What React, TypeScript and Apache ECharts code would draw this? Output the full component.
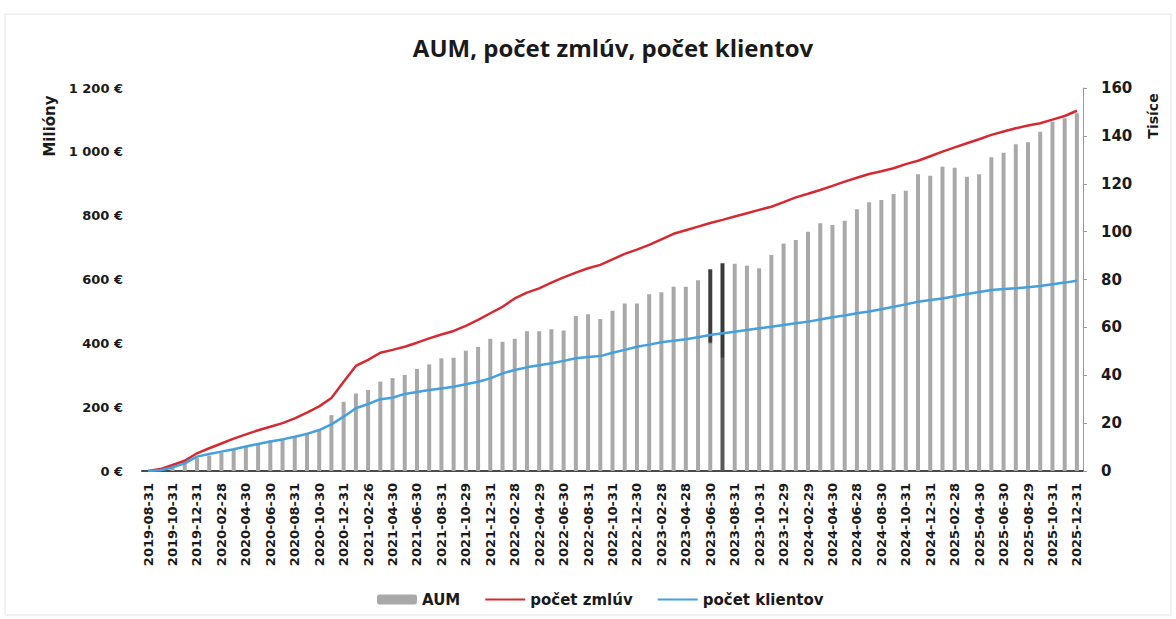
import React, { useEffect, useRef } from "react";
import * as echarts from "echarts";

const categories = [
  "2019-08-31", "2019-09-30", "2019-10-31", "2019-11-29", "2019-12-31",
  "2020-01-31", "2020-02-28", "2020-03-31", "2020-04-30", "2020-05-29", "2020-06-30",
  "2020-07-31", "2020-08-31", "2020-09-30", "2020-10-30", "2020-11-30", "2020-12-31",
  "2021-01-29", "2021-02-26", "2021-03-31", "2021-04-30", "2021-05-31", "2021-06-30",
  "2021-07-30", "2021-08-31", "2021-09-30", "2021-10-29", "2021-11-30", "2021-12-31",
  "2022-01-31", "2022-02-28", "2022-03-31", "2022-04-29", "2022-05-31", "2022-06-30",
  "2022-07-29", "2022-08-31", "2022-09-30", "2022-10-31", "2022-11-30", "2022-12-30",
  "2023-01-31", "2023-02-28", "2023-03-31", "2023-04-28", "2023-05-31", "2023-06-30",
  "2023-07-31", "2023-08-31", "2023-09-29", "2023-10-31", "2023-11-30", "2023-12-29",
  "2024-01-31", "2024-02-29", "2024-03-28", "2024-04-30", "2024-05-31", "2024-06-28",
  "2024-07-31", "2024-08-30", "2024-09-30", "2024-10-31", "2024-11-29", "2024-12-31",
  "2025-01-31", "2025-02-28", "2025-03-31", "2025-04-30", "2025-05-30", "2025-06-30",
  "2025-07-31", "2025-08-29", "2025-09-30", "2025-10-31", "2025-11-28", "2025-12-31",
];

// AUM in millions of EUR (left axis)
const aumValues = [
  0, 2, 10, 28, 40,
  48, 57, 68, 76, 86, 96,
  102, 107, 120, 128, 175, 217,
  243, 254, 280, 291, 301, 320,
  334, 353, 355, 377, 389, 414,
  405, 414, 438, 438, 444, 440,
  486, 491, 476, 502, 525, 525,
  554, 560, 577, 577, 598, 632,
  651, 649, 643, 635, 677, 713,
  724, 750, 776, 771, 784, 820,
  842, 849, 868, 878, 930, 925,
  953, 950, 922, 930, 983, 997,
  1024, 1030, 1063, 1094, 1105, 1121,
];

// počet zmlúv in thousands (right axis)
const contractValues = [
  0, 0.8, 2.5, 4.3, 7.4,
  9.5, 11.5, 13.5, 15.3, 17, 18.5,
  20, 22, 24.4, 27, 30.5, 37.3,
  43.9, 46.4, 49.4, 50.6, 51.9, 53.6,
  55.4, 57, 58.5, 60.6, 63.1, 65.9,
  68.6, 72.1, 74.5, 76.3, 78.7, 80.9,
  82.9, 84.7, 86.1, 88.4, 90.7, 92.5,
  94.5, 96.8, 99.1, 100.6, 102.1, 103.6,
  104.9, 106.3, 107.7, 109.1, 110.4, 112.3,
  114.3, 115.8, 117.4, 119.1, 120.9, 122.5,
  124.1, 125.2, 126.5, 128.2, 129.6, 131.5,
  133.4, 135.2, 136.9, 138.6, 140.4, 141.8,
  143.2, 144.3, 145.3, 146.8, 148.3, 150.5,
];

// počet klientov in thousands (right axis)
const clientValues = [
  0, 0.3, 1.5, 3.2, 6,
  7.1, 8.1, 9.1, 10.2, 11.3, 12.3,
  13.2, 14.3, 15.5, 17.1, 19.5, 22.7,
  26.2, 28, 30, 30.6, 32.2, 33,
  33.8, 34.5, 35.2, 36.2, 37.3, 38.7,
  40.8, 42.2, 43.3, 44.2, 45, 46,
  47.1, 47.6, 48, 49.4, 50.6, 51.9,
  52.8, 53.8, 54.4, 55, 55.9, 56.8,
  57.5, 58.2, 58.9, 59.6, 60.3, 61,
  61.7, 62.4, 63.3, 64.2, 65, 65.9,
  66.6, 67.6, 68.6, 69.6, 70.7, 71.4,
  72.1, 73, 73.9, 74.8, 75.6, 76,
  76.3, 76.8, 77.3, 78, 78.7, 79.5,
];

const leftTickLabels = ["0 €", "200 €", "400 €", "600 €", "800 €", "1 000 €", "1 200 €"];
const rightTickLabels = ["0", "20", "40", "60", "80", "100", "120", "140", "160"];

const seriesNames = ["AUM", "počet zmlúv", "počet klientov"];
const titleText = "AUM, počet zmlúv, počet klientov";
const leftAxisName = "Milióny";
const rightAxisName = "Tisíce";

// bars that appear darker in the source image
const darkBarIndices = [46, 47];

const FONT = "DejaVu Sans";

export default function App() {
  const ref = useRef<HTMLDivElement>(null);

  useEffect(() => {
    if (!ref.current) return;
    const chart = echarts.init(ref.current, null, { renderer: "svg" });

    const barData = aumValues.map((v, i) => {
      if (darkBarIndices.indexOf(i) === 0) {
        return {
          value: v,
          itemStyle: {
            color: new echarts.graphic.LinearGradient(0, 0, 0, 1, [
              { offset: 0, color: "#3d3d3d" },
              { offset: 0.36, color: "#3d3d3d" },
              { offset: 0.37, color: "#a9a9a9" },
              { offset: 1, color: "#a9a9a9" },
            ]),
          },
        };
      }
      if (darkBarIndices.indexOf(i) === 1) {
        return {
          value: v,
          itemStyle: {
            color: new echarts.graphic.LinearGradient(0, 0, 0, 1, [
              { offset: 0, color: "#3a3a3a" },
              { offset: 0.45, color: "#3a3a3a" },
              { offset: 0.46, color: "#5a5a5a" },
              { offset: 1, color: "#5a5a5a" },
            ]),
          },
        };
      }
      return v;
    });

    chart.setOption({
      animation: false,
      backgroundColor: "#ffffff",
      textStyle: { fontFamily: FONT },
      grid: { left: 142, right: 93, top: 88, bottom: 148, containLabel: false },
      graphic: [
        {
          type: "rect",
          shape: { x: 5, y: 14, width: 1166, height: 601 },
          style: { fill: "none", stroke: "#e4e4e4", lineWidth: 1 },
          silent: true,
        },
        {
          type: "text",
          x: 613,
          y: 47,
          style: {
            text: titleText,
            font: `bold 24px "Open Sans"`,
            fill: "#1a1a1a",
            textAlign: "center",
            textVerticalAlign: "middle",
          },
        },
        {
          type: "text",
          x: 50,
          y: 126,
          rotation: Math.PI / 2,
          style: {
            text: leftAxisName,
            font: `bold 15px "${FONT}"`,
            fill: "#1a1a1a",
            textAlign: "center",
            textVerticalAlign: "middle",
          },
        },
        {
          type: "text",
          x: 1153,
          y: 116,
          rotation: Math.PI / 2,
          style: {
            text: rightAxisName,
            font: `bold 14px "${FONT}"`,
            fill: "#1a1a1a",
            textAlign: "center",
            textVerticalAlign: "middle",
          },
        },
      ],
      legend: {
        left: 372,
        top: 587,
        itemWidth: 40,
        itemHeight: 10,
        itemGap: 24,
        data: [
          { name: seriesNames[0] },
          { name: seriesNames[1], itemStyle: { opacity: 0 } },
          { name: seriesNames[2], itemStyle: { opacity: 0 } },
        ],
        textStyle: { fontFamily: FONT, fontWeight: "bold", fontSize: 15, color: "#1a1a1a" },
      },
      xAxis: {
        type: "category",
        data: categories,
        boundaryGap: true,
        axisLine: { show: true, lineStyle: { color: "#4a4a4a", width: 2 } },
        axisTick: { show: false },
        axisLabel: {
          rotate: 90,
          interval: 1,
          margin: 12,
          fontFamily: FONT,
          fontWeight: "bold",
          fontSize: 13,
          color: "#1a1a1a",
        },
        splitLine: { show: false },
      },
      yAxis: [
        {
          type: "value",
          min: 0,
          max: 1200,
          interval: 200,
          axisLine: { show: false },
          axisTick: { show: false },
          splitLine: { show: false },
          axisLabel: {
            margin: 19,
            fontFamily: FONT,
            fontWeight: "bold",
            fontSize: 13,
            color: "#1a1a1a",
            formatter: (v: number) => leftTickLabels[Math.round(v / 200)] ?? "",
          },
        },
        {
          type: "value",
          min: 0,
          max: 160,
          interval: 20,
          position: "right",
          axisLine: { show: true, lineStyle: { color: "#9a9a9a", width: 1 } },
          axisTick: { show: true, length: 4, lineStyle: { color: "#9a9a9a" } },
          splitLine: { show: false },
          axisLabel: {
            margin: 18,
            fontFamily: FONT,
            fontWeight: "bold",
            fontSize: 15,
            color: "#1a1a1a",
            formatter: (v: number) => rightTickLabels[Math.round(v / 20)] ?? "",
          },
        },
      ],
      series: [
        {
          name: seriesNames[0],
          type: "bar",
          yAxisIndex: 0,
          barWidth: 4,
          itemStyle: { color: "#a9a9a9" },
          data: barData,
        },
        {
          name: seriesNames[1],
          type: "line",
          yAxisIndex: 1,
          symbol: "none",
          lineStyle: { color: "#d42a31", width: 2.5 },
          itemStyle: { color: "#d42a31" },
          data: contractValues,
        },
        {
          name: seriesNames[2],
          type: "line",
          yAxisIndex: 1,
          symbol: "none",
          lineStyle: { color: "#44a0de", width: 2.5 },
          itemStyle: { color: "#44a0de" },
          data: clientValues,
        },
      ],
    });

    return () => chart.dispose();
  }, []);

  return (
    <div
      ref={ref}
      style={{ position: "absolute", left: 0, top: 0, width: 1176, height: 619, background: "#fff" }}
    />
  );
}
